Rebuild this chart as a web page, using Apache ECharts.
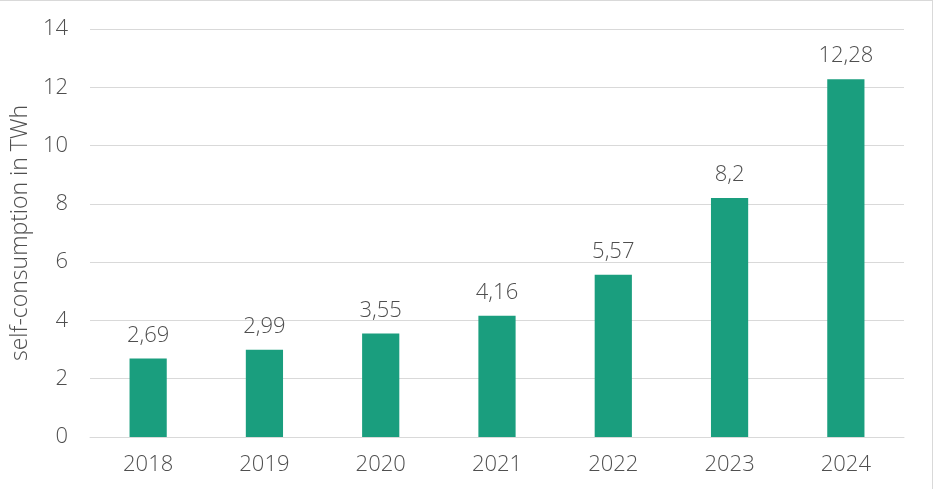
<!DOCTYPE html>
<html><head><meta charset="utf-8">
<script src="https://cdn.jsdelivr.net/npm/echarts@6/dist/echarts.min.js"></script>
<style>html,body{margin:0;padding:0;background:#fff}#c{width:933px;height:489px;box-sizing:border-box;border:1px solid #d9d9d9;border-bottom:none;border-left:none}</style>
</head><body><div id="c"></div>
<script>
const categories = ["2018","2019","2020","2021","2022","2023","2024"];
const values = [2.69, 2.99, 3.55, 4.16, 5.57, 8.2, 12.28];
const yTicks = {min:0, max:14, interval:2};
const chart = echarts.init(document.getElementById('c'), null, {renderer:'canvas'});
const txt = '#4f4f4f';
const font = 'Open Sans';
chart.setOption({
  animation:false,
  grid:{left:90, right:28, top:28, bottom:52},
  xAxis:{type:'category', data:categories,
    axisLine:{show:true, lineStyle:{color:'#d9d9d9', width:1}},
    axisTick:{show:false},
    axisLabel:{color:txt, fontFamily:font, fontWeight:300, fontSize:22, margin:17}},
  yAxis:{type:'value', min:yTicks.min, max:yTicks.max, interval:yTicks.interval,
    name:'self-consumption in TWh', nameLocation:'middle', nameGap:58, nameRotate:90,
    nameTextStyle:{color:txt, fontFamily:font, fontWeight:300, fontSize:23},
    axisLine:{show:false}, axisTick:{show:false},
    axisLabel:{color:txt, fontFamily:font, fontWeight:300, fontSize:22, margin:22},
    splitLine:{lineStyle:{color:'#d9d9d9', width:1}}},
  series:[{type:'bar', data:values, barWidth:'32%',
    itemStyle:{color:'#1a9e7e'},
    label:{show:true, position:'top', distance:12, color:txt, fontFamily:font, fontWeight:300, fontSize:22,
      formatter:p=>String(p.value).replace('.',',')}}]
});
</script></body></html>
